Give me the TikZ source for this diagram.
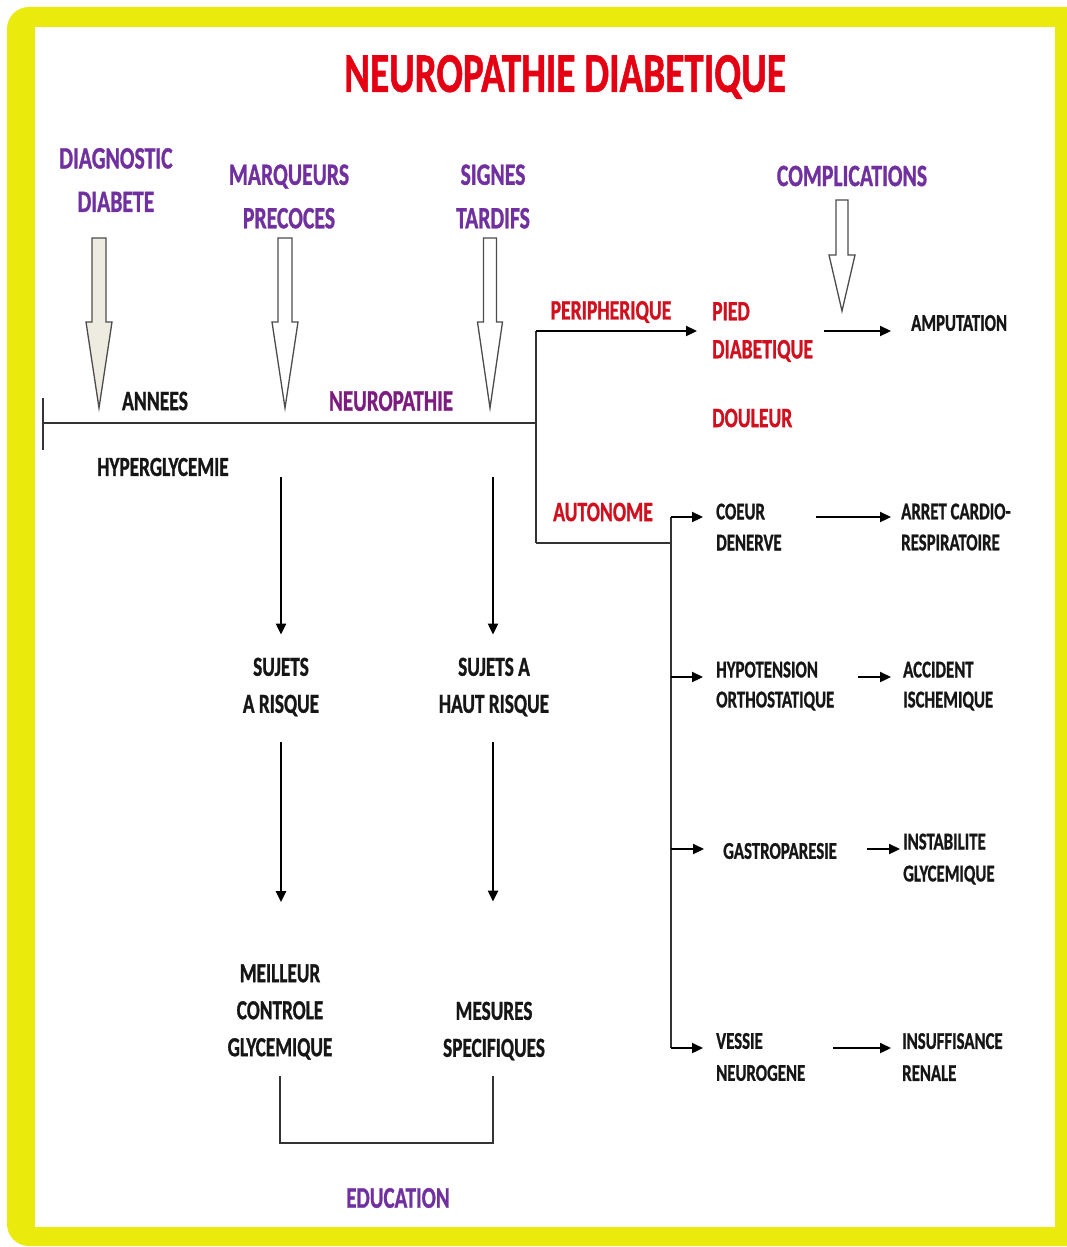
\documentclass[tikz,border=0pt]{standalone}
\usepackage{fontspec}
\setmainfont{Carlito}[BoldFeatures={FakeBold=1.2}]
\usetikzlibrary{arrows.meta}
\definecolor{ttlred}{RGB}{228,0,18}
\definecolor{lblred}{RGB}{208,16,30}
\definecolor{hdpurple}{RGB}{112,48,160}
\definecolor{npurple}{RGB}{125,28,128}
\definecolor{frameyel}{RGB}{234,234,12}
\definecolor{txtblk}{RGB}{22,22,22}
\definecolor{beigefill}{RGB}{238,235,225}
\newcommand\sx[1]{\scalebox{0.7}[1]{#1}}
\newcommand\fsz[2]{\fontsize{#1}{#2}\selectfont\bfseries}
\newcommand\blockarr[7]{%
  \draw[hollow, fill=#7] (#1-#5,#2) -- (#1+#5,#2) -- (#1+#5,#3) -- (#1+#6,#3)
    -- (#1,#4) -- (#1-#6,#3) -- (#1-#5,#3) -- cycle;}
\begin{document}
\begin{tikzpicture}[x=1pt,y=-1pt,
  ttl/.style={font=\fsz{56}{60}, text=ttlred, inner sep=0},
  head/.style={font=\fsz{31}{43.5}, text=hdpurple, align=center, inner sep=0},
  blk/.style={font=\fsz{27.5}{37}, text=txtblk, align=center, inner sep=0},
  rlbl/.style={font=\fsz{24}{31}, text=txtblk, align=left, anchor=west, inner sep=0},
  redlbl/.style={font=\fsz{28}{38}, text=lblred, align=left, inner sep=0},
  arr/.style={-{Triangle[length=11pt,width=10pt]}, line width=2.2pt, draw=black},
  ln/.style={line width=1.8pt, draw=black!80},
  hollow/.style={draw=black!70, line width=1.3pt, line join=miter}]
\useasboundingbox (0,0) rectangle (1067,1247);
\clip (0,0) rectangle (1067,1247);
% frame
\fill[white] (0,0) rectangle (1067,1247);
\fill[frameyel, rounded corners=22pt] (7,7) rectangle (1110,1246);
\fill[white] (35,27) rectangle (1055,1227);

% title
\node[ttl] (title) at (565,77) {\sx{NEUROPATHIE DIABETIQUE}};

% headings
\node[head] (diag) at (116,180) {\sx{DIAGNOSTIC}\\\sx{DIABETE}};
\node[head] (marq) at (289,196.5) {\sx{MARQUEURS}\\\sx{PRECOCES}};
\node[head] (sign) at (493,196.5) {\sx{SIGNES}\\\sx{TARDIFS}};
\node[head] (compl) at (852,176) {\sx{COMPLICATIONS}};

% hollow block arrows
\blockarr{99}{238}{322}{408}{7}{13}{beigefill}
\blockarr{285}{238}{322}{408}{7}{13}{white}
\blockarr{490}{238}{322}{408}{6.5}{12.5}{white}
\blockarr{842}{200}{255}{311}{6}{13}{white}

% timeline
\coordinate (t0) at (43,423);
\coordinate (t1) at (536,423);
\draw[ln] (43,398) -- (43,450);
\draw[ln] (t0) -- (t1);
\node[blk, font=\fsz{28}{34}] (annees) at (155,401) {\sx{ANNEES}};
\node[blk, font=\fsz{30}{34}, text=npurple] (neuro) at (391,401) {\sx{NEUROPATHIE}};
\node[blk] (hyper) at (163,467) {\sx{HYPERGLYCEMIE}};

% peripheral branch
\coordinate (bp) at (536,331);
\coordinate (ba) at (536,543);
\draw[ln] (bp) -- (ba);
\node[redlbl] (peri) at (611,312) {\sx{PERIPHERIQUE}};
\node[redlbl, anchor=west] (pied) at (712,332) {\sx{PIED}\\\sx{DIABETIQUE}};
\node[redlbl, anchor=west] (doul) at (712,418) {\sx{DOULEUR}};
\node[rlbl] (amp) at (911,323) {\sx{AMPUTATION}};
\draw[arr] (bp) -- (pied.west |- bp) [shorten >=15pt];
\coordinate (ps) at (824,331);
\draw[arr, shorten >=20pt] (ps) -- (amp.west |- ps);

% autonomic branch
\node[redlbl] (auto) at (603,512) {\sx{AUTONOME}};
\coordinate (va) at (671,543);
\draw[ln] (ba) -- (va);
\coordinate (v1) at (671,517);
\coordinate (v2) at (671,677);
\coordinate (v3) at (671,849);
\coordinate (v4) at (671,1048);
\draw[ln] (v1) -- (v4);

\node[rlbl] (coeur) at (716,527) {\sx{COEUR}\\\sx{DENERVE}};
\node[rlbl] (arret) at (901,527) {\sx{ARRET CARDIO-}\\\sx{RESPIRATOIRE}};
\node[rlbl, font=\fsz{24}{30}] (hypo) at (716,686) {\sx{HYPOTENSION}\\\sx{ORTHOSTATIQUE}};
\node[rlbl, font=\fsz{24}{30}] (acc) at (903,686) {\sx{ACCIDENT}\\\sx{ISCHEMIQUE}};
\node[rlbl] (gastro) at (723,851) {\sx{GASTROPARESIE}};
\node[rlbl, font=\fsz{24}{32}] (instab) at (903,859) {\sx{INSTABILITE}\\\sx{GLYCEMIQUE}};
\node[rlbl, font=\fsz{24}{32}] (vessie) at (716,1057) {\sx{VESSIE}\\\sx{NEUROGENE}};
\node[rlbl, font=\fsz{24}{32}] (insuf) at (902,1057) {\sx{INSUFFISANCE}\\\sx{RENALE}};

\draw[arr, shorten >=13pt] (v1) -- (coeur.west |- v1);
\draw[arr, shorten >=13pt] (v2) -- (hypo.west |- v2);
\draw[arr, shorten >=19pt] (v3) -- (gastro.west |- v3);
\draw[arr, shorten >=13pt] (v4) -- (vessie.west |- v4);

\coordinate (c1) at (816,517);
\coordinate (c2) at (858,677);
\coordinate (c3) at (867,849);
\coordinate (c4) at (833,1048);
\draw[arr, shorten >=10pt] (c1) -- (arret.west |- c1);
\draw[arr, shorten >=12pt] (c2) -- (acc.west |- c2);
\draw[arr, shorten >=3pt] (c3) -- (instab.west |- c3);
\draw[arr, shorten >=11pt] (c4) -- (insuf.west |- c4);

% left columns
\node[blk] (sujA) at (281,687) {\sx{SUJETS}\\\sx{A RISQUE}};
\node[blk] (sujB) at (494,687) {\sx{SUJETS A}\\\sx{HAUT RISQUE}};
\node[blk] (meil) at (280,1012) {\sx{MEILLEUR}\\\sx{CONTROLE}\\\sx{GLYCEMIQUE}};
\node[blk] (mes) at (494,1031) {\sx{MESURES}\\\sx{SPECIFIQUES}};
\node[blk, font=\fsz{30}{34}, text=hdpurple] (edu) at (398,1198) {\sx{EDUCATION}};

\coordinate (dA) at (281,477);
\coordinate (dB) at (493,477);
\draw[arr, shorten >=23pt] (dA) -- (dA |- sujA.north);
\draw[arr, shorten >=23pt] (dB) -- (dB |- sujB.north);
\draw[arr, shorten <=26pt, shorten >=62pt] (dA |- sujA.south) -- (dA |- meil.north);
\draw[arr, shorten <=26pt, shorten >=100pt] (dB |- sujB.south) -- (dB |- mes.north);

% education bracket
\draw[ln, line width=1.6pt] ([yshift=-16pt]meil.south) -- ++(0,67) -| ([yshift=-16pt]mes.south -| dB);
\end{tikzpicture}
\end{document}
